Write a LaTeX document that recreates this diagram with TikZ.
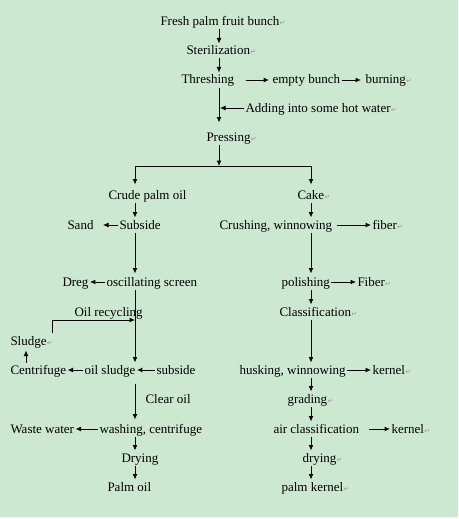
\documentclass[tikz,border=0pt]{standalone}
\usepackage{fontspec}
\setmainfont{Liberation Serif}
\newfontfamily\dejavu{DejaVu Sans}
\usetikzlibrary{arrows.meta}
\definecolor{bggreen}{RGB}{205,232,208}
\newcommand\rmk{\kern0.3pt{\dejavu\color{black!40}\fontsize{7}{7}\selectfont ↵}}
\begin{document}
\begin{tikzpicture}[x=1pt,y=-1pt,line width=1pt,
  txt/.style={inner sep=1pt,text height=10pt,text depth=2pt,font=\fontsize{13}{15}\selectfont,anchor=west},
  arr/.style={-{Latex[length=5.5pt,width=5pt]}}]
\fill[bggreen] (0,0) rectangle (458,516.5);
\fill[white] (0,516.5) rectangle (458,519);
\useasboundingbox (0,0) rectangle (458,519);
% column coordinates
\coordinate (cA) at (219,0);
\coordinate (cL) at (135,0);
\coordinate (cR) at (311,0);
\coordinate (cS) at (26,0);
% nodes
\node[txt] (fresh) at (159,22) {Fresh palm fruit bunch\rmk};
\node[txt] (ster) at (185,51) {Sterilization\rmk};
\node[txt] (thr) at (180,80) {Threshing};
\node[txt] (empty) at (271,80) {empty bunch};
\node[txt] (burn) at (364,80) {burning\rmk};
\node[txt] (add) at (244,108) {Adding into some hot water\rmk};
\node[txt] (press) at (205,137) {Pressing\rmk};
\coordinate (split) at (219,166);
\node[txt] (crude) at (107,195) {Crude palm oil};
\node[txt] (cake) at (296,195) {Cake\rmk};
\node[txt] (sand) at (66,225) {Sand};
\node[txt] (sub1) at (118,225) {Subside};
\node[txt] (crush) at (218,225) {Crushing, winnowing};
\node[txt] (fib1) at (371,225) {fiber\rmk};
\node[txt] (dreg) at (61,282) {Dreg};
\node[txt] (osc) at (105,282) {oscillating screen};
\node[txt] (pol) at (280,282) {polishing};
\node[txt] (fib2) at (356,282) {Fiber\rmk};
\node[txt] (recy) at (73,312) {Oil recycling};
\node[txt] (cls) at (278,312) {Classification\rmk};
\node[txt] (sludge) at (9,341) {Sludge\rmk};
\node[txt] (centri) at (9,370) {Centrifuge};
\node[txt] (oilsl) at (83,370) {oil sludge};
\node[txt] (sub2) at (155,370) {subside};
\node[txt] (husk) at (238,370) {husking, winnowing};
\node[txt] (kern1) at (371,370) {kernel\rmk};
\node[txt] (clear) at (144,399) {Clear oil};
\node[txt] (grad) at (286,399) {grading\rmk};
\node[txt] (waste) at (9,429) {Waste water};
\node[txt] (wash) at (98,429) {washing, centrifuge};
\node[txt] (air) at (272,429) {air classification};
\node[txt] (kern2) at (390,429) {kernel\rmk};
\node[txt] (dry1) at (120,458) {Drying};
\node[txt] (dry2) at (301,458) {drying\rmk};
\node[txt] (poil) at (106,487) {Palm oil};
\node[txt] (pk) at (280,487) {palm kernel\rmk};
\coordinate (rcs) at (52,333);
\coordinate (rce) at (135,320);
% connectors - top trunk
\draw[arr] (fresh.south -| cA) -- (ster.north -| cA);
\draw[arr] (ster.south -| cA) -- (thr.north -| cA);
\draw[arr,shorten <=10pt,shorten >=2pt] (thr.east) -- (empty.west);
\draw[arr,shorten >=3pt] (empty.east) -- (burn.west);
\draw[arr,shorten >=7pt] (thr.south -| cA) -- (press.north -| cA);
\draw[arr,shorten >=1pt] (add.west) -- (add.west -| cA);
\draw[arr] (press.south -| cA) -- (split);
\draw (cL |- split) -- (cR |- split);
\draw[arr,shorten >=3pt] (cL |- split) -- (crude.north -| cL);
\draw[arr,shorten >=3pt] (cR |- split) -- (cake.north -| cR);
% left branch
\draw[arr] (crude.south -| cL) -- (sub1.north -| cL);
\draw[arr,shorten >=8pt] (sub1.west) -- (sand.east);
\draw[arr,shorten >=1pt] (sub1.south -| cL) -- (osc.north -| cL);
\draw[arr] (osc.west) -- (dreg.east);
\draw[arr] (osc.south -| cL) -- (oilsl.north -| cL);
\draw[arr] (rcs) |- (rce);
\draw[arr] (sub2.west) -- (oilsl.east);
\draw[arr] (oilsl.west) -- (centri.east);
\draw[arr,shorten >=2pt] (centri.north -| cS) -- (sludge.south -| cS);
\draw[arr,shorten <=6pt,shorten >=2pt] (oilsl.south -| cL) -- (wash.north -| cL);
\draw[arr] (wash.west) -- (waste.east);
\draw[arr] (wash.south -| cL) -- (dry1.north -| cL);
\draw[arr] (dry1.south -| cL) -- (poil.north -| cL);
% right branch
\draw[arr] (cake.south -| cR) -- (crush.north -| cR);
\draw[arr,shorten <=3pt] (crush.east) -- (fib1.west);
\draw[arr,shorten >=1pt] (crush.south -| cR) -- (pol.north -| cR);
\draw[arr] (pol.east) -- (fib2.west);
\draw[arr] (pol.south -| cR) -- (cls.north -| cR);
\draw[arr] (cls.south -| cR) -- (husk.north -| cR);
\draw[arr] (husk.east) -- (kern1.west);
\draw[arr] (husk.south -| cR) -- (grad.north -| cR);
\draw[arr] (grad.south -| cR) -- (air.north -| cR);
\draw[arr,shorten <=8pt] (air.east) -- (kern2.west);
\draw[arr] (air.south -| cR) -- (dry2.north -| cR);
\draw[arr] (dry2.south -| cR) -- (pk.north -| cR);
\end{tikzpicture}
\end{document}
